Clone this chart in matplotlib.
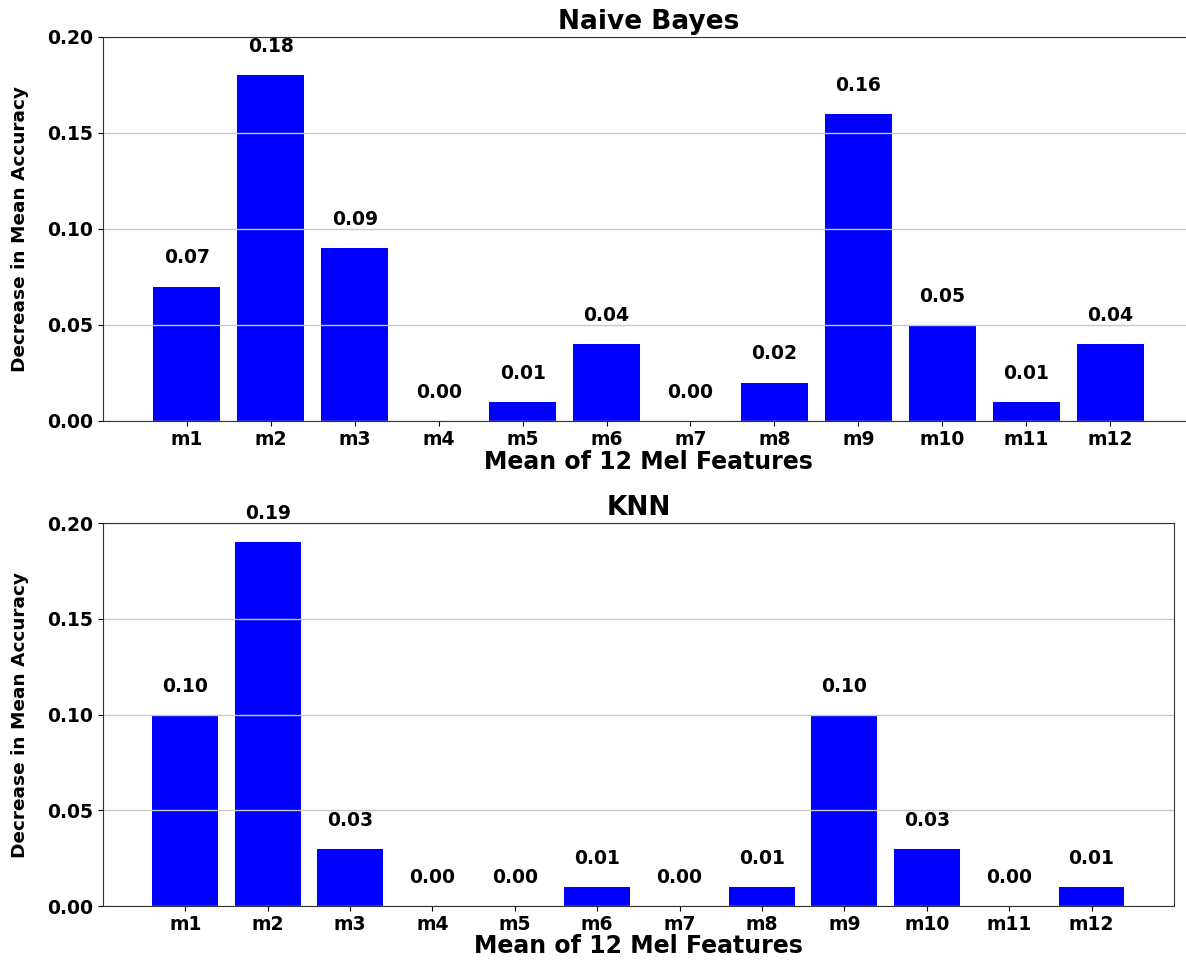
import numpy as np
import matplotlib
matplotlib.use('Agg')
import matplotlib.pyplot as plt

plt.rcParams.update({
    'font.family': 'DejaVu Sans', 'font.weight': 'bold',
    'axes.labelweight': 'bold', 'axes.titleweight': 'bold',
})

features = ['m1', 'm2', 'm3', 'm4', 'm5', 'm6', 'm7', 'm8', 'm9', 'm10', 'm11', 'm12']
nb_decrease = [0.07, 0.18, 0.09, 0.00, 0.01, 0.04, 0.00, 0.02, 0.16, 0.05, 0.01, 0.04]
knn_decrease = [0.10, 0.19, 0.03, 0.00, 0.00, 0.01, 0.00, 0.01, 0.10, 0.03, 0.00, 0.01]

fig = plt.figure(figsize=(11.86, 9.6), dpi=100)
ax1 = fig.add_axes([0.0868, 0.5615, 0.92, 0.400])
ax2 = fig.add_axes([0.0868, 0.0560, 0.903, 0.3990])


def importance_panel(ax, vals, title, xpad):
    x = np.arange(len(features))
    ax.bar(x, vals, width=0.8, color='blue')
    for xi, v in zip(x, vals):
        ax.text(xi, v + 0.01, f'{v:.2f}', ha='center', va='bottom',
                fontsize=13.5, fontweight='bold')
    ax.set_xlim(-1, 12)
    ax.set_ylim(0, 0.2)
    ax.set_yticks([0, 0.05, 0.10, 0.15, 0.20])
    ax.set_xticks(x)
    ax.set_xticklabels(features)
    ax.tick_params(labelsize=13.5)
    ax.tick_params(axis='x', pad=3)
    for lab in ax.get_xticklabels() + ax.get_yticklabels():
        lab.set_fontweight('bold')
    ax.yaxis.grid(True, color='#c8c8c8', lw=1.0)
    for s in ax.spines.values():
        s.set_color('#333333')
    ax.set_title(title, fontsize=19, pad=6)
    ax.set_xlabel('Mean of 12 Mel Features', fontsize=17, labelpad=xpad)
    ax.set_ylabel('Decrease in Mean Accuracy', fontsize=13.3, labelpad=13)


importance_panel(ax1, nb_decrease, 'Naive Bayes', 1)
importance_panel(ax2, knn_decrease, 'KNN', 0)

fig.savefig('out.png', dpi=100)
plt.close()
